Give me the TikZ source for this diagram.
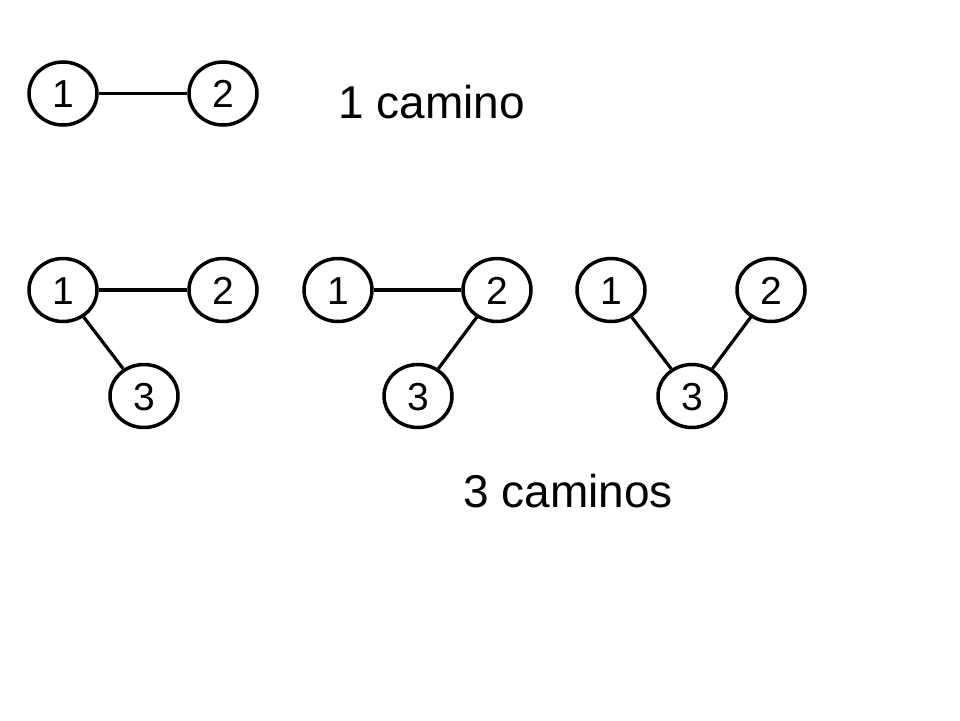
\documentclass[tikz,border=0pt]{standalone}
\usepackage{fontspec}
\setmainfont{Liberation Sans}
\usetikzlibrary{shapes.geometric}
\begin{document}
\begin{tikzpicture}[x=1pt,y=-1pt,
  vert/.style={draw=black,line width=3.5pt,ellipse,minimum width=68pt,minimum height=63pt,inner sep=0pt,text height=28pt,text depth=0pt,font=\fontsize{39}{40}\selectfont},
  edge/.style={draw=black,line width=3.2pt},
  lbl/.style={anchor=base west,inner sep=0pt,font=\fontsize{46}{50}\selectfont}]
\useasboundingbox[fill=white] (0,0) rectangle (960,720);
% row 1
\node[vert] (a1) at (63,93.5) {1};
\node[vert] (a2) at (223,93.5) {2};
\draw[edge] (a1) -- (a2);
\node[lbl] (t1) at (338,118) {1 camino};
% group 1
\node[vert] (b1) at (63,290) {1};
\node[vert] (b2) at (223,290) {2};
\node[vert] (b3) at (144,396) {3};
\draw[edge] (b1) -- (b2);
\draw[edge] (b1) -- (b3);
% group 2
\node[vert] (c1) at (338,290) {1};
\node[vert] (c2) at (497,290) {2};
\node[vert] (c3) at (418,396) {3};
\draw[edge] (c1) -- (c2);
\draw[edge] (c2) -- (c3);
% group 3
\node[vert] (d1) at (611,290) {1};
\node[vert] (d2) at (771,290) {2};
\node[vert] (d3) at (692,396) {3};
\draw[edge] (d1) -- (d3);
\draw[edge] (d2) -- (d3);
\node[lbl] (t2) at (463,507) {3 caminos};
\end{tikzpicture}
\end{document}
